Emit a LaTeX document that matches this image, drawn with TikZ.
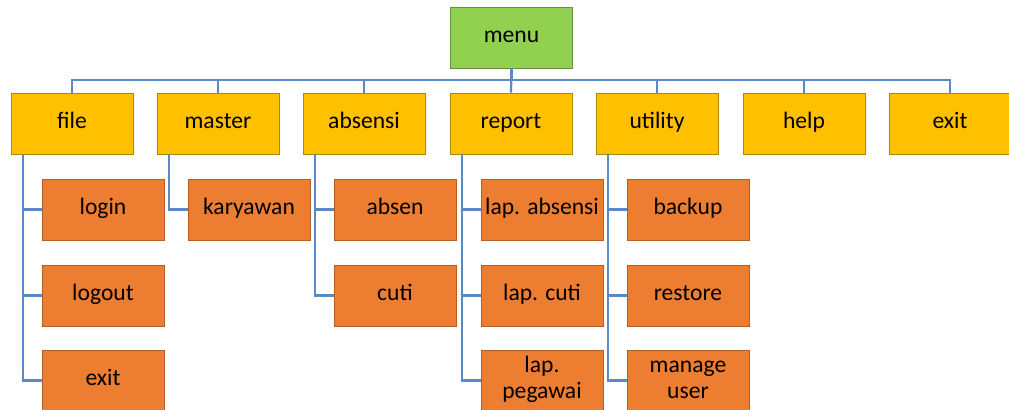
\documentclass[tikz,border=0pt]{standalone}
\usepackage{fontspec}
\setmainfont{Carlito}
\usepackage{tikz}
\usetikzlibrary{shadows}
\definecolor{topgreen}{HTML}{92D050}
\definecolor{menuyellow}{HTML}{FFC000}
\definecolor{suborange}{HTML}{ED7D31}
\definecolor{linkblue}{HTML}{5A8AC6}
\tikzset{
    every node/.style={rectangle, minimum width=61pt, minimum height=30.5pt,
    	inner sep=1pt, align=center, font=\fontsize{11.8}{13}\selectfont,
    	execute at begin node=\strut,
    	drop shadow={shadow xshift=0pt, shadow yshift=-.6pt, opacity=.45}}
}
\tikzset{
    topbox/.style={fill=topgreen, draw=topgreen!70!black, line width=.4pt},
    mainbox/.style={fill=menuyellow, draw=menuyellow!70!black, line width=.4pt},
    subbox/.style={fill=suborange, draw=suborange!75!black, line width=.4pt},
    twoline/.style={text height=22pt, text depth=3.5pt}
}
\tikzset{
    link/.style={draw=linkblue, line width=1.1pt}
}

\begin{document}
\begin{tikzpicture}[x=0.5pt, y=-0.5pt]
  \useasboundingbox (0,0) rectangle (1009,410);
  \node (menu) [topbox] at (511.5,37.5) {menu};

  \node (file) [mainbox] at (72,123.5) {file};
  \node (master) [mainbox] at (218,123.5) {master};
  \node (absensi) [mainbox] at (364,123.5) {absensi};
  \node (report) [mainbox] at (511,123.5) {report};
  \node (utility) [mainbox] at (657,123.5) {utility};
  \node (help) [mainbox] at (804,123.5) {help};
  \node (exit) [mainbox] at (950,123.5) {exit};

  \node (login) [subbox] at (103,209.5) {login};
  \node (logout) [subbox] at (103,295.5) {logout};
  \node (fexit) [subbox] at (103,380.5) {exit};
  \node (karyawan) [subbox] at (249,209.5) {karyawan};
  \node (absen) [subbox] at (395,209.5) {absen};
  \node (cuti) [subbox] at (395,295.5) {cuti};
  \node (lapabsensi) [subbox] at (542,209.5) {lap. absensi};
  \node (lapcuti) [subbox] at (542,295.5) {lap. cuti};
  \node (lappegawai) [subbox, twoline] at (542,380.5) {lap.\\pegawai};
  \node (backup) [subbox] at (688,209.5) {backup};
  \node (restore) [subbox] at (688,295.5) {restore};
  \node (manage) [subbox, twoline] at (688,380.5) {manage\\user};

  \draw [link] (menu.south) -- ++(0,12) -| (file.north);
  \draw [link] (menu.south) -- ++(0,12) -| (master.north);
  \draw [link] (menu.south) -- ++(0,12) -| (absensi.north);
  \draw [link] (menu.south) -- (report.north);
  \draw [link] (menu.south) -- ++(0,12) -| (utility.north);
  \draw [link] (menu.south) -- ++(0,12) -| (help.north);
  \draw [link] (menu.south) -- ++(0,12) -| (exit.north);

  \draw [link] (file.south west) ++(12,0) |- (login.west);
  \draw [link] (file.south west) ++(12,0) |- (logout.west);
  \draw [link] (file.south west) ++(12,0) |- (fexit.west);
  \draw [link] (master.south west) ++(12,0) |- (karyawan.west);
  \draw [link] (absensi.south west) ++(12,0) |- (absen.west);
  \draw [link] (absensi.south west) ++(12,0) |- (cuti.west);
  \draw [link] (report.south west) ++(12,0) |- (lapabsensi.west);
  \draw [link] (report.south west) ++(12,0) |- (lapcuti.west);
  \draw [link] (report.south west) ++(12,0) |- (lappegawai.west);
  \draw [link] (utility.south west) ++(12,0) |- (backup.west);
  \draw [link] (utility.south west) ++(12,0) |- (restore.west);
  \draw [link] (utility.south west) ++(12,0) |- (manage.west);
\end{tikzpicture}
\end{document}
